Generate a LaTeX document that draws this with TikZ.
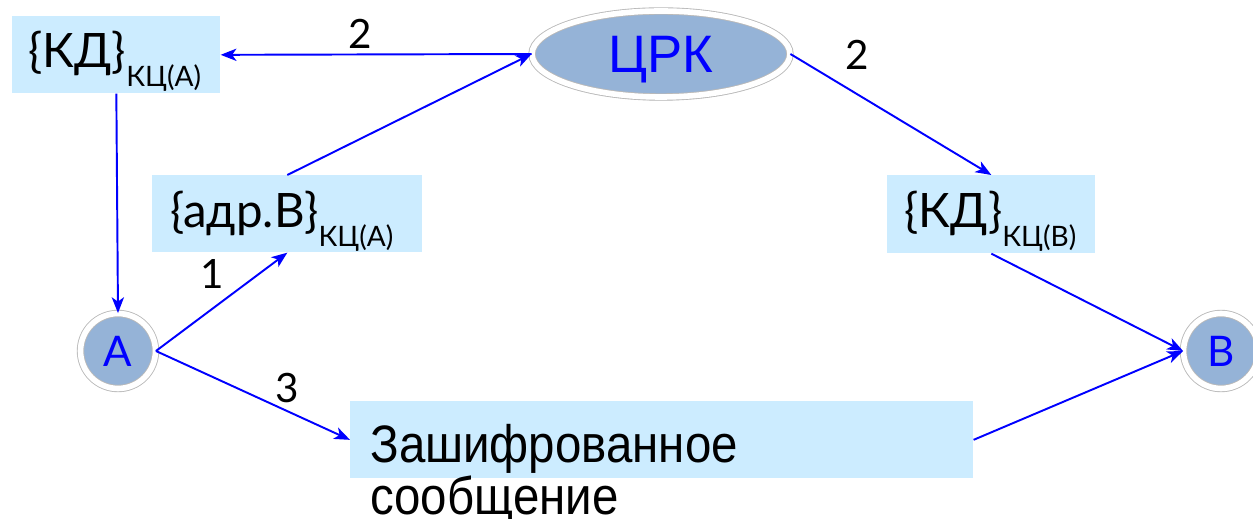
\documentclass[tikz,border=0pt]{standalone}
\usepackage{fontspec}
\setmainfont{Lato}
\newfontfamily\arialfont{Liberation Sans}
\newfontfamily\narrowfont[FakeStretch=0.9]{Liberation Sans}
\usetikzlibrary{arrows.meta}
\usetikzlibrary{shapes.geometric, shadows}

\definecolor{boxblue}{RGB}{204,236,255}
\definecolor{nodeblue}{RGB}{149,179,215}
\definecolor{lineblue}{RGB}{0,0,255}

\newcommand{\keylbl}[2]{{\fontsize{27}{30}\selectfont\{#1\}}{\fontsize{16}{18}\selectfont\raisebox{-10.5pt}{#2}}}

\tikzset{
  keybox/.style={rectangle,fill=boxblue,draw=none,anchor=north west,inner sep=0pt},
  keytext/.style={anchor=base west,inner sep=0pt,text=black},
  numtext/.style={inner sep=0pt,text=black,font=\fontsize{23}{25}\selectfont},
  party/.style={circle,fill=nodeblue,draw=gray!55,double=white,double distance=3.2pt,line width=0.5pt,
    minimum size=1.5cm,inner sep=0pt,text=lineblue,text depth=0pt,font=\fontsize{24}{26}\selectfont,
    drop shadow={shadow xshift=0pt,shadow yshift=-2pt,opacity=0.3}},
  flow/.style={draw=lineblue,line width=1.1pt,-{Stealth[length=9pt,width=7pt,inset=2.5pt]}}
}

\begin{document}
\begin{tikzpicture}[x=0.02cm,y=-0.02cm]
\useasboundingbox (0,0) rectangle (1253,519);

% key boxes
\node[keybox,minimum width=4.16cm,minimum height=1.54cm] (kda) at (12,16) {};
\node[keytext] (kdatext) at (28,68) {\keylbl{КД}{КЦ(А)}};
\node[keybox,minimum width=5.4cm,minimum height=1.54cm] (addr) at (152,175) {};
\node[keytext] (addrtext) at (170,228) {\keylbl{адр.В}{КЦ(А)}};
\node[keybox,minimum width=4.16cm,minimum height=1.56cm] (kdb) at (887,175) {};
\node[keytext] (kdbtext) at (904,228) {\keylbl{КД}{КЦ(В)}};

% message
\node[keybox,minimum width=12.46cm,minimum height=1.54cm] (msg) at (350,401) {};
\node[anchor=north west,inner sep=0pt,align=left,font={\narrowfont\fontsize{30}{29.6}\selectfont}] (msgtext) at (370,424) {Зашифрованное\\сообщение};

% centre and parties
\node[ellipse,fill=nodeblue,draw=gray!55,double=white,double distance=3.2pt,line width=0.5pt,
  minimum width=5.16cm,minimum height=1.72cm,inner sep=0pt,text=lineblue,text depth=0pt,
  font={\arialfont\fontsize{30}{32}\selectfont},
  drop shadow={shadow xshift=0pt,shadow yshift=-2pt,opacity=0.3}] (crk) at (661,54) {ЦРК};
\node[party] (A) at (118,351) {А};
\node[party] (B) at (1221,351) {В};

% connectors
\draw[flow] (crk.west) -- (kda.east);
\draw[flow] (addr.north) -- (crk.west);
\draw[flow] (crk.east) -- (kdb.north);
\draw[flow] (kda.south) -- (A.north);
\draw[flow] (A.east) -- (addr.south);
\draw[flow] (A.east) -- (msg.west);
\draw[flow] (msg.east) -- (B.west);
\draw[flow] (kdb.south) -- (B.west);

% step numbers
\node[numtext] (n2a) at (360,34) {2};
\node[numtext] (n2b) at (857,55) {2};
\node[numtext] (n1) at (212,274) {1};
\node[numtext] (n3) at (287,388) {3};

\end{tikzpicture}
\end{document}
